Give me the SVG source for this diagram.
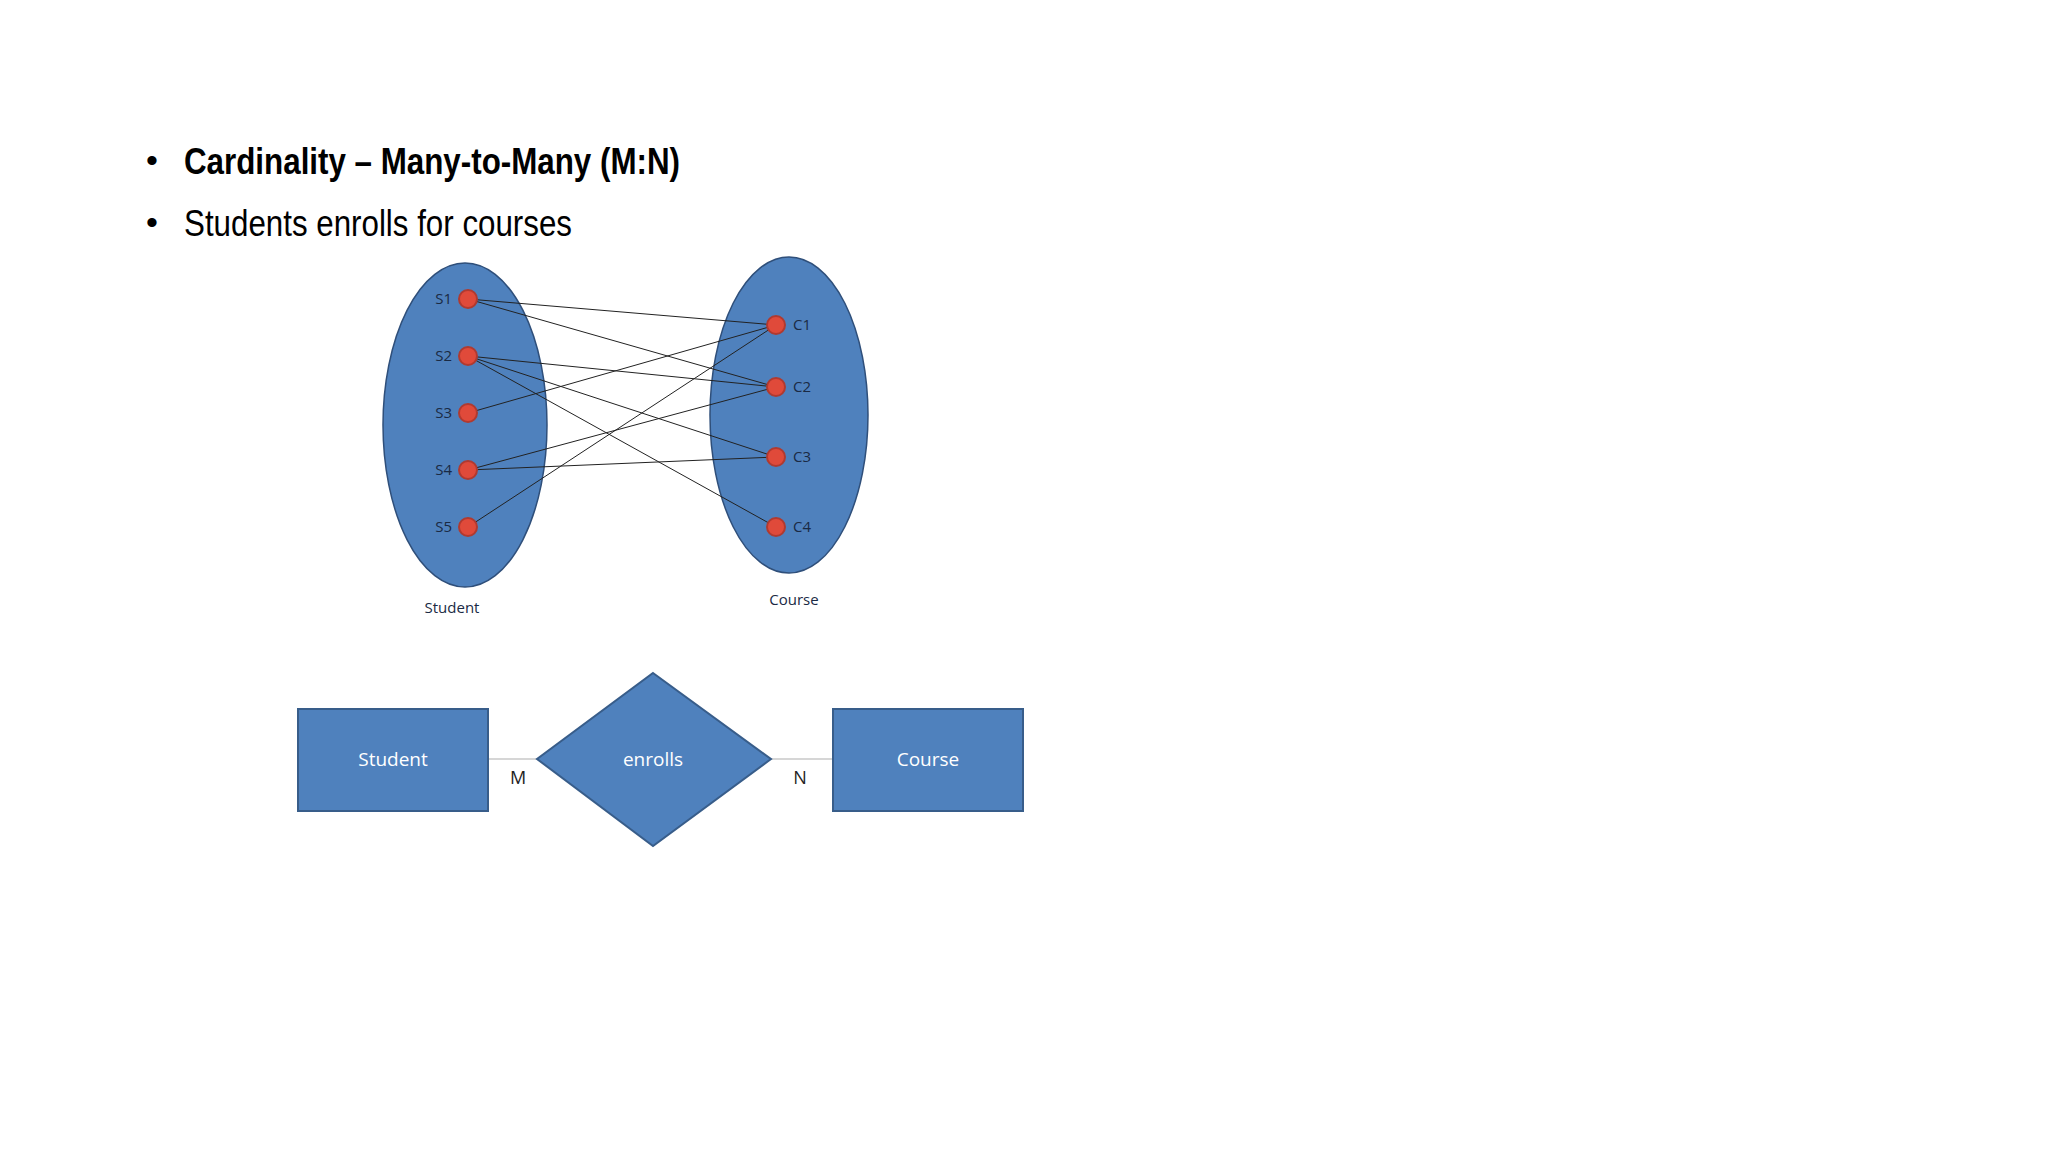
<svg xmlns="http://www.w3.org/2000/svg" width="2048" height="1152" viewBox="0 0 2048 1152">
<style>
.t{font-family:"Liberation Sans",Arial,sans-serif;fill:#000}
.s{font-family:"Open Sans","DejaVu Sans",sans-serif;font-size:15px;fill:#1a2a44}
.set{fill:#4f81bd;stroke:#2f4f7a;stroke-width:1.5}
.dot{fill:#e04a3a;stroke:#b03a30;stroke-width:2}
.ln{stroke:#222;stroke-width:1;fill:none}
.box{fill:#4f81bd;stroke:#385d8a;stroke-width:2}
.w{font-family:"Open Sans","DejaVu Sans",sans-serif;font-size:19px;fill:#fff;text-anchor:middle}
.c{font-family:"Open Sans","DejaVu Sans",sans-serif;font-size:18px;fill:#222}
</style>
<rect width="2048" height="1152" fill="#fff"/>
<g id="title">
<text class="t" x="146" y="172" font-size="34">•</text>
<text class="t" x="184" y="174" font-size="36" font-weight="bold" textLength="496" lengthAdjust="spacingAndGlyphs">Cardinality – Many-to-Many (M:N)</text>
<text class="t" x="146" y="234" font-size="34">•</text>
<text class="t" x="184" y="236" font-size="36" textLength="388" lengthAdjust="spacingAndGlyphs">Students enrolls for courses</text>
</g>
<g id="student-set"><ellipse class="set" cx="465" cy="425" rx="82" ry="162"/><text class="s" x="452" y="613" text-anchor="middle">Student</text></g>
<g id="course-set"><ellipse class="set" cx="789" cy="415" rx="79" ry="158"/><text class="s" x="794" y="605" text-anchor="middle">Course</text></g>
<g id="connectors">
<line class="ln" x1="468" y1="299" x2="776" y2="325"/>
<line class="ln" x1="468" y1="299" x2="776" y2="387"/>
<line class="ln" x1="468" y1="356" x2="776" y2="387"/>
<line class="ln" x1="468" y1="356" x2="776" y2="457"/>
<line class="ln" x1="468" y1="356" x2="776" y2="527"/>
<line class="ln" x1="468" y1="413" x2="776" y2="325"/>
<line class="ln" x1="468" y1="470" x2="776" y2="387"/>
<line class="ln" x1="468" y1="470" x2="776" y2="457"/>
<line class="ln" x1="468" y1="527" x2="776" y2="325"/>
<line stroke="#c8c8c8" stroke-width="1.5" x1="488" y1="759" x2="537" y2="759"/>
<line stroke="#c8c8c8" stroke-width="1.5" x1="771" y1="759" x2="833" y2="759"/>
</g>
<g id="S1"><circle class="dot" cx="468" cy="299" r="9"/><text class="s" x="452" y="304" text-anchor="end">S1</text></g>
<g id="S2"><circle class="dot" cx="468" cy="356" r="9"/><text class="s" x="452" y="361" text-anchor="end">S2</text></g>
<g id="S3"><circle class="dot" cx="468" cy="413" r="9"/><text class="s" x="452" y="418" text-anchor="end">S3</text></g>
<g id="S4"><circle class="dot" cx="468" cy="470" r="9"/><text class="s" x="452" y="475" text-anchor="end">S4</text></g>
<g id="S5"><circle class="dot" cx="468" cy="527" r="9"/><text class="s" x="452" y="532" text-anchor="end">S5</text></g>
<g id="C1"><circle class="dot" cx="776" cy="325" r="9"/><text class="s" x="793" y="330">C1</text></g>
<g id="C2"><circle class="dot" cx="776" cy="387" r="9"/><text class="s" x="793" y="392">C2</text></g>
<g id="C3"><circle class="dot" cx="776" cy="457" r="9"/><text class="s" x="793" y="462">C3</text></g>
<g id="C4"><circle class="dot" cx="776" cy="527" r="9"/><text class="s" x="793" y="532">C4</text></g>
<g id="student"><rect class="box" x="298" y="709" width="190" height="102"/><text class="w" x="393" y="766">Student</text></g>
<g id="enrolls"><polygon class="box" points="653,673 771,759 653,846 537,759"/><text class="w" x="653" y="766">enrolls</text></g>
<g id="course"><rect class="box" x="833" y="709" width="190" height="102"/><text class="w" x="928" y="766">Course</text></g>
<text class="c" x="518" y="784" text-anchor="middle">M</text>
<text class="c" x="800" y="784" text-anchor="middle">N</text>
</svg>
